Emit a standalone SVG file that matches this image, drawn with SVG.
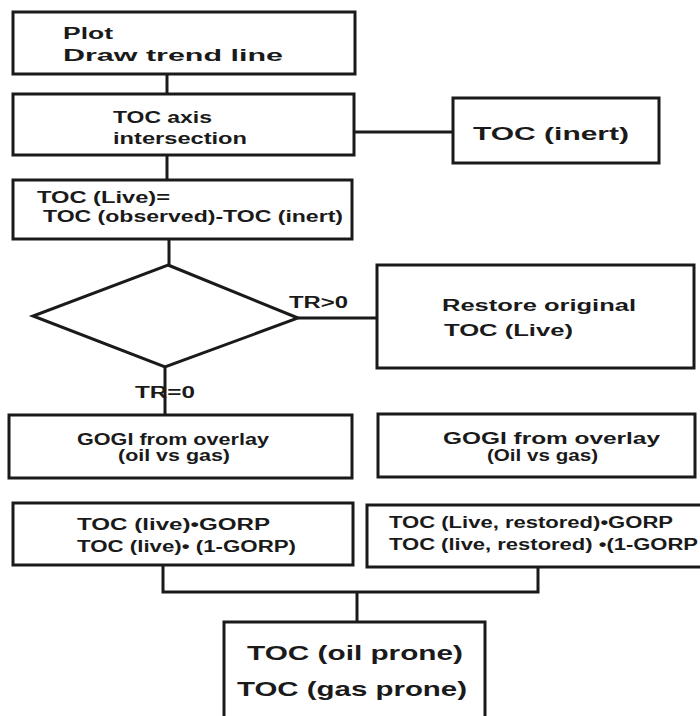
<svg xmlns="http://www.w3.org/2000/svg" width="700" height="716" viewBox="0 0 700 716">
<style>
.box{fill:#fff;stroke:#1a1a1a;stroke-width:3}
.ln{fill:none;stroke:#1a1a1a;stroke-width:3}
text{font-family:"Liberation Sans",Arial,sans-serif;font-weight:bold;font-size:16px;fill:#1a1a1a}
.big{font-size:19px}
.xl{font-size:21px}
</style>
<rect width="700" height="716" fill="#fff"/>
<g id="connectors">
<line class="ln" x1="167" y1="74" x2="167" y2="95"/>
<line class="ln" x1="167" y1="155" x2="167" y2="181"/>
<line class="ln" x1="355" y1="132" x2="453" y2="132"/>
<line class="ln" x1="169" y1="239" x2="169" y2="265"/>
<line class="ln" x1="298" y1="318" x2="377" y2="318"/>
<line class="ln" x1="165" y1="367" x2="165" y2="415"/>
<polyline class="ln" points="163,565 163,592 538,592 538,567"/>
<line class="ln" x1="357" y1="592" x2="357" y2="622"/>
</g>
<g id="plot">
<rect class="box" x="13" y="12" width="342" height="62"/>
<text x="63" y="39" textLength="50" lengthAdjust="spacingAndGlyphs">Plot</text>
<text x="63" y="61" textLength="220" lengthAdjust="spacingAndGlyphs">Draw trend line</text>
</g>
<g id="axis">
<rect class="box" x="13" y="94" width="341" height="61"/>
<text x="113" y="123" textLength="99" lengthAdjust="spacingAndGlyphs">TOC axis</text>
<text x="113" y="144" textLength="134" lengthAdjust="spacingAndGlyphs">intersection</text>
</g>
<g id="inert">
<rect class="box" x="453" y="98" width="206" height="65"/>
<text class="big" x="473" y="140" textLength="156" lengthAdjust="spacingAndGlyphs">TOC (inert)</text>
</g>
<g id="live">
<rect class="box" x="13" y="180" width="339" height="59"/>
<text x="37" y="203" textLength="133" lengthAdjust="spacingAndGlyphs">TOC (Live)=</text>
<text x="43" y="222" textLength="300" lengthAdjust="spacingAndGlyphs">TOC (observed)-TOC (inert)</text>
</g>
<g id="decision">
<polygon class="box" points="168,265 298,318 165,367 33,316"/>
</g>
<g id="labels">
<text x="289" y="308" textLength="59" lengthAdjust="spacingAndGlyphs">TR&gt;0</text>
<text x="135" y="398" textLength="60" lengthAdjust="spacingAndGlyphs">TR=0</text>
</g>
<g id="restore">
<rect class="box" x="377" y="265" width="317" height="103"/>
<text x="442" y="311" textLength="194" lengthAdjust="spacingAndGlyphs">Restore original</text>
<text x="444" y="336" textLength="129" lengthAdjust="spacingAndGlyphs">TOC (Live)</text>
</g>
<g id="gogi-left">
<rect class="box" x="9" y="415" width="343" height="63"/>
<text x="77" y="445" textLength="192" lengthAdjust="spacingAndGlyphs">GOGI from overlay</text>
<text x="118" y="461" textLength="112" lengthAdjust="spacingAndGlyphs">(oil vs gas)</text>
</g>
<g id="gogi-right">
<rect class="box" x="378" y="414" width="317" height="63"/>
<text x="443" y="444" textLength="217" lengthAdjust="spacingAndGlyphs">GOGI from overlay</text>
<text x="487" y="461" textLength="111" lengthAdjust="spacingAndGlyphs">(Oil vs gas)</text>
</g>
<g id="gorp-left">
<rect class="box" x="13" y="503" width="340" height="62"/>
<text x="77" y="530" textLength="193" lengthAdjust="spacingAndGlyphs">TOC (live)•GORP</text>
<text x="77" y="552" textLength="219" lengthAdjust="spacingAndGlyphs">TOC (live)• (1-GORP)</text>
</g>
<g id="gorp-right">
<rect class="box" x="367" y="505" width="345" height="62"/>
<text x="389" y="528" textLength="284" lengthAdjust="spacingAndGlyphs">TOC (Live, restored)•GORP</text>
<text x="389" y="550" textLength="309" lengthAdjust="spacingAndGlyphs">TOC (live, restored) •(1-GORP</text>
</g>
<g id="result">
<rect class="box" x="224" y="622" width="261" height="110"/>
<text class="xl" x="247" y="660" textLength="216" lengthAdjust="spacingAndGlyphs">TOC (oil prone)</text>
<text class="xl" x="237" y="696" textLength="230" lengthAdjust="spacingAndGlyphs">TOC (gas prone)</text>
</g>
</svg>
